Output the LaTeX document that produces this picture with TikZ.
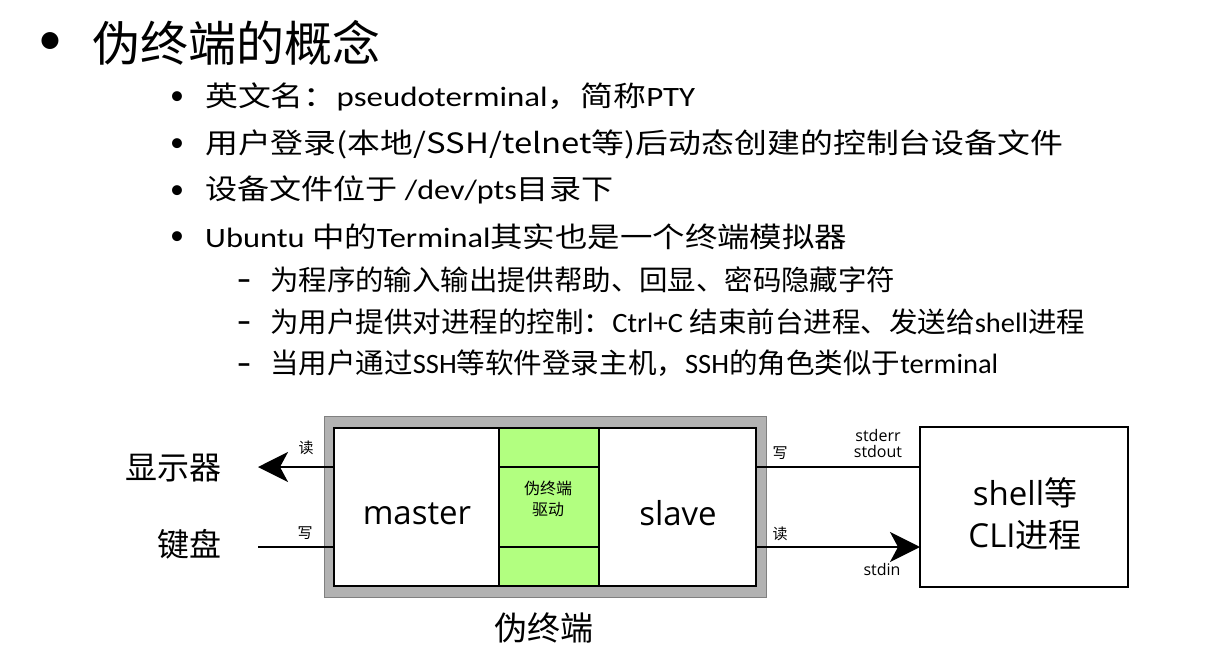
\documentclass[tikz,border=0pt]{standalone}
\usepackage{fontspec}
\usepackage{graphicx}
\setmainfont{Carlito}
\newfontfamily\cjk{Noto Sans CJK SC}
\newfontfamily\dgl{Open Sans}
\newcommand\zh[1]{{\cjk #1}}
\usetikzlibrary{arrows.meta}
\definecolor{boxgray}{RGB}{178,178,178}
\definecolor{drvgreen}{RGB}{178,255,128}
\tikzset{
  line/.style={line width=2pt, draw=black},
  slide/.style={anchor=west, inner sep=0pt, font=\fontsize{28}{34}\selectfont},
  bul/.style={inner sep=0pt, font=\fontsize{28}{34}\selectfont},
  dsh/.style={anchor=base, inner sep=0pt, font=\bfseries\fontsize{30}{34}\selectfont},
  blk/.style={line width=2pt, draw=black, fill=white},
  grn/.style={line width=1.5pt, draw=black, fill=drvgreen},
  big/.style={font=\cjk\fontsize{32}{38}\selectfont, inner sep=0pt},
  inbox/.style={font=\dgl\fontsize{33}{42}\selectfont, inner sep=0pt, align=center},
  small/.style={font=\cjk\fontsize{15}{18}\selectfont, inner sep=0pt},
  io/.style={font=\dgl\fontsize{16}{19}\selectfont, inner sep=0pt, align=center},
  tip/.style={-{Stealth[length=30pt,width=30pt,inset=8pt]}}
}
\begin{document}
\begin{tikzpicture}[x=1pt,y=-1pt]
\useasboundingbox[fill=white] (0,0) rectangle (1222,666);
% title
\node[inner sep=0pt, font=\fontsize{48}{56}\selectfont] (tb) at (50,44) {•};
\node[anchor=west, inner sep=0pt, font=\cjk\fontsize{48}{56}\selectfont] (title) at (92,43) {伪终端的概念};
% bullets
\node[bul] (b1) at (177,98) {•};
\node[bul] (b2) at (177,145) {•};
\node[bul] (b3) at (177,192) {•};
\node[bul] (b4) at (177,238) {•};
\node[slide] (l1) at (205,97) {\resizebox{490pt}{\height}{\zh{英文名：}pseudoterminal\zh{，简称}PTY}};
\node[slide] (l2) at (205,144) {\resizebox{858pt}{\height}{\zh{用户登录(本地/SSH/telnet等)后动态创建的控制台设备文件}}};
\node[slide] (l3) at (205,190) {\resizebox{408pt}{\height}{\zh{设备文件位于} /dev/pts\zh{目录下}}};
\node[slide] (l4) at (205,237) {\resizebox{642pt}{\height}{Ubuntu \zh{中的}Terminal\zh{其实也是一个终端模拟器}}};
\node[dsh] (d1) at (244,289) {–};
\node[dsh] (d2) at (244,331) {–};
\node[dsh] (d3) at (244,373) {–};
\node[slide] (s1) at (270,280) {\resizebox{625pt}{\height}{\zh{为程序的输入输出提供帮助、回显、密码隐藏字符}}};
\node[slide] (s2) at (270,322) {\resizebox{815pt}{\height}{\zh{为用户提供对进程的控制：}Ctrl+C \zh{结束前台进程、发送给}shell\zh{进程}}};
\node[slide] (s3) at (270,363) {\resizebox{728pt}{\height}{\zh{当用户通过}SSH\zh{等软件登录主机，}SSH\zh{的角色类似于}terminal}};
% diagram
\fill[boxgray, draw=gray] (324,416) rectangle (766,597);
\path[blk] (334,428) rectangle (499,586);
\path[grn] (499,428) rectangle (599,467);
\path[grn] (499,467) rectangle (599,547);
\path[grn] (499,547) rectangle (599,586);
\path[blk] (599,428) rectangle (756,586);
\path[blk] (920,427) rectangle (1128,587);
\node[inbox] (master) at (417,514) {master};
\node[inbox] (slave) at (678,513) {slave};
\node[small, align=center, font=\cjk\fontsize{16}{21}\selectfont] (drv) at (548,499) {伪终端\\驱动};
\node[inbox, font=\dgl\fontsize{33}{42}\selectfont] (shell) at (1025,514) {shell\zh{等}\\CLI\zh{进程}};
\node[big] (disp) at (173,468) {显示器};
\node[big] (kbd) at (189,544) {键盘};
\node[big, font=\cjk\fontsize{33}{38}\selectfont] (pty) at (544,628) {伪终端};
\coordinate (mU) at (334,467);
\coordinate (mL) at (334,547);
\coordinate (dispE) at (258,467);
\coordinate (kbdE) at (258,547);
\coordinate (sU) at (756,467);
\coordinate (sL) at (756,547);
\coordinate (cU) at (920,467);
\coordinate (cL) at (920,547);
\draw[line, tip] (mU) -- (dispE);
\draw[line] (kbdE) -- (mL);
\draw[line] (sU) -- (cU);
\draw[line, tip] (sL) -- (cL);
\node[small] (r1) at (306,448) {读};
\node[small] (w1) at (305,533) {写};
\node[small] (w2) at (780,453) {写};
\node[small] (r2) at (780,534) {读};
\node[io] (errout) at (878,443) {stderr\\[-3pt]stdout};
\node[io] (sin) at (882,569) {stdin};
\end{tikzpicture}
\end{document}
